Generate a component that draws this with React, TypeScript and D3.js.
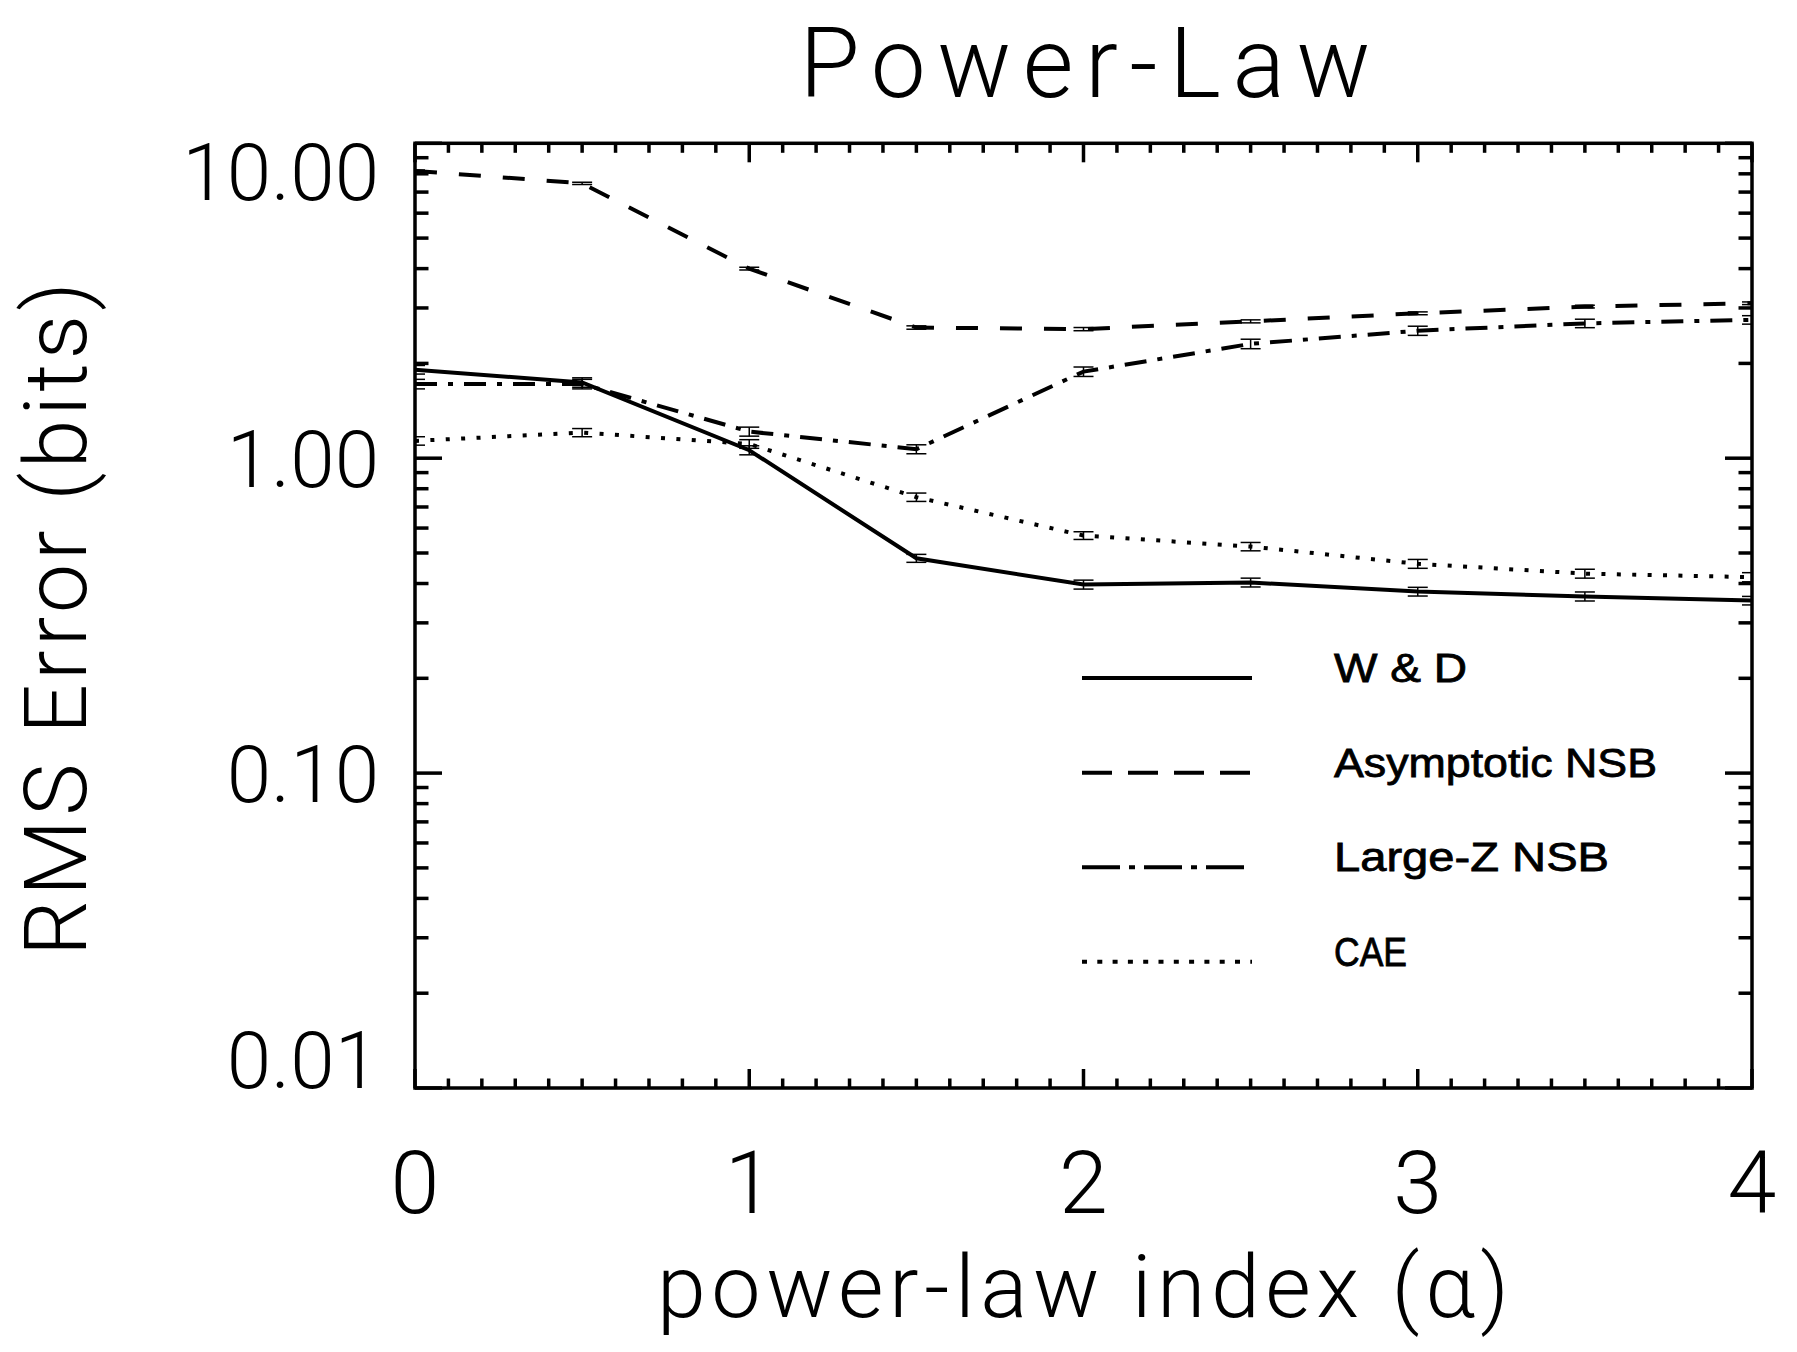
import { useEffect, useRef } from "react";
import * as d3 from "d3";

// power-law index values
const alphas = [0, 0.5, 1, 1.5, 2, 2.5, 3, 3.5, 4];

// RMS error (bits) for each estimator
const wdValues = [1.91, 1.74, 1.06, 0.481, 0.397, 0.403, 0.377, 0.364, 0.353];
const asymValues = [8.17, 7.46, 4.0, 2.6, 2.57, 2.72, 2.885, 3.03, 3.105];
const largeZValues = [1.72, 1.72, 1.215, 1.068, 1.883, 2.307, 2.54, 2.68, 2.75];
const caeValues = [1.135, 1.206, 1.11, 0.752, 0.568, 0.524, 0.462, 0.43, 0.419];

// error bars
const wdErrors = [0.06, 0.06, 0.035, 0.014, 0.013, 0.013, 0.012, 0.012, 0.011];
const asymErrors = [0.06, 0.055, 0.04, 0.032, 0.03, 0.03, 0.03, 0.03, 0.03];
const largeZErrors = [0.06, 0.06, 0.04, 0.035, 0.065, 0.08, 0.085, 0.083, 0.085];
const caeErrors = [0.035, 0.036, 0.035, 0.023, 0.016, 0.016, 0.015, 0.014, 0.014];

const seriesNames = ["W & D", "Asymptotic NSB", "Large-Z NSB", "CAE"];
const xTickValues = [0, 1, 2, 3, 4];
const yTickValues = [0.01, 0.1, 1, 10];

const W = 1797;
const H = 1352;
const hershey = "Roboto, 'Open Sans', 'DejaVu Sans', sans-serif";

export default function App() {
  const svgRef = useRef<SVGSVGElement>(null);

  useEffect(() => {
    if (!svgRef.current) return;
    const svg = d3.select(svgRef.current);
    svg.selectAll("*").remove();

    const left = 415;
    const right = 1752;
    const top = 143.3;
    const bottom = 1088;

    const x = d3.scaleLinear().domain([0, 4]).range([left, right]);
    const y = d3.scaleLog().domain([0.01, 10]).range([bottom, top]);

    const series = [
      { name: seriesNames[0], values: wdValues, errors: wdErrors, dash: null, legendDash: null },
      { name: seriesNames[1], values: asymValues, errors: asymErrors, dash: "22 22", legendDash: "30 16" },
      { name: seriesNames[2], values: largeZValues, errors: largeZErrors, dash: "22 11 5 11", legendDash: "38 9 6 9" },
      { name: seriesNames[3], values: caeValues, errors: caeErrors, dash: "4 11.4", legendDash: "5 10.3" },
    ];

    svg
      .append("defs")
      .append("clipPath")
      .attr("id", "plot-clip")
      .append("rect")
      .attr("x", left)
      .attr("y", top)
      .attr("width", right - left)
      .attr("height", bottom - top);

    // data lines + error bars
    const data = svg.append("g").attr("clip-path", "url(#plot-clip)");
    const line = d3
      .line<number>()
      .x((_, i) => x(alphas[i]))
      .y((d) => y(d));

    series.forEach((s) => {
      data
        .append("path")
        .attr("d", line(s.values))
        .attr("fill", "none")
        .attr("stroke", "#000")
        .attr("stroke-width", 4)
        .attr("stroke-dasharray", s.dash);

      s.values.forEach((v, i) => {
        const cx = x(alphas[i]);
        const y1 = y(v + s.errors[i]);
        const y2 = y(v - s.errors[i]);
        const eb = data.append("g").attr("stroke", "#000").attr("stroke-width", 1.5);
        eb.append("line").attr("x1", cx).attr("x2", cx).attr("y1", y1).attr("y2", y2);
        eb.append("line").attr("x1", cx - 10).attr("x2", cx + 10).attr("y1", y1).attr("y2", y1);
        eb.append("line").attr("x1", cx - 10).attr("x2", cx + 10).attr("y1", y2).attr("y2", y2);
      });
    });

    // frame
    svg
      .append("rect")
      .attr("x", left)
      .attr("y", top)
      .attr("width", right - left)
      .attr("height", bottom - top)
      .attr("fill", "none")
      .attr("stroke", "#000")
      .attr("stroke-width", 3.5);

    // x ticks (bottom + top, inward)
    const ticks = svg.append("g").attr("stroke", "#000").attr("stroke-width", 3.5);
    d3.range(0, 41).forEach((k) => {
      const px = x(k / 10);
      const len = k % 10 === 0 ? 19 : 9.5;
      ticks.append("line").attr("x1", px).attr("x2", px).attr("y1", bottom).attr("y2", bottom - len);
      ticks.append("line").attr("x1", px).attr("x2", px).attr("y1", top).attr("y2", top + len);
    });

    // y ticks (left + right, inward)
    y.ticks().forEach((v) => {
      const py = y(v);
      const major = Math.abs(Math.log10(v) - Math.round(Math.log10(v))) < 1e-6;
      const len = major ? 27 : 13.5;
      ticks.append("line").attr("x1", left).attr("x2", left + len).attr("y1", py).attr("y2", py);
      ticks.append("line").attr("x1", right).attr("x2", right - len).attr("y1", py).attr("y2", py);
    });

    // x tick labels
    svg
      .append("g")
      .selectAll("text")
      .data(xTickValues)
      .join("text")
      .attr("x", (d) => x(d))
      .attr("y", 1213)
      .attr("text-anchor", "middle")
      .attr("font-family", hershey)
      .attr("font-weight", 300)
      .attr("font-size", 88)
      .text((d) => String(d));

    // y tick labels (end labels kept inside the axis extent)
    const fmt = d3.format(".2f");
    svg
      .append("g")
      .selectAll("text")
      .data(yTickValues)
      .join("text")
      .attr("x", 379)
      .attr("y", (d) => {
        if (d === 10) return top + 57;
        if (d === 0.01) return bottom;
        return y(d) + 29;
      })
      .attr("text-anchor", "end")
      .attr("font-family", hershey)
      .attr("font-weight", 300)
      .attr("font-size", 80)
      .text((d) => fmt(d));

    // title
    svg
      .append("text")
      .attr("x", 1085)
      .attr("y", 97)
      .attr("text-anchor", "middle")
      .attr("font-family", hershey)
      .attr("font-weight", 300)
      .attr("font-size", 98)
      .attr("textLength", 571)
      .attr("lengthAdjust", "spacing")
      .text("Power-Law");

    // axis titles
    svg
      .append("text")
      .attr("x", 1083)
      .attr("y", 1317)
      .attr("text-anchor", "middle")
      .attr("font-family", hershey)
      .attr("font-weight", 300)
      .attr("font-size", 88)
      .attr("textLength", 852)
      .attr("lengthAdjust", "spacing")
      .text("power-law index (α)");

    svg
      .append("text")
      .attr("transform", "translate(86,619) rotate(-90)")
      .attr("text-anchor", "middle")
      .attr("font-family", hershey)
      .attr("font-weight", 300)
      .attr("font-size", 88)
      .attr("textLength", 674)
      .attr("lengthAdjust", "spacing")
      .text("RMS Error (bits)");

    // legend
    const legendY = [678, 772.7, 867.3, 961.7];
    const legendWidths = [133, 323, 275, 73];
    const legend = svg.append("g");
    series.forEach((s, i) => {
      legend
        .append("line")
        .attr("x1", 1082)
        .attr("x2", 1252)
        .attr("y1", legendY[i])
        .attr("y2", legendY[i])
        .attr("stroke", "#000")
        .attr("stroke-width", 4)
        .attr("stroke-dasharray", s.legendDash);
      legend
        .append("text")
        .attr("x", 1334)
        .attr("y", legendY[i] + 4)
        .attr("font-family", "'Liberation Sans', Arial, sans-serif")
        .attr("font-size", 40)
        .attr("stroke", "#000")
        .attr("stroke-width", 0.8)
        .attr("textLength", legendWidths[i])
        .attr("lengthAdjust", "spacingAndGlyphs")
        .text(s.name);
    });
  }, []);

  return (
    <>
      <style>{`body{margin:0;background:#fff}`}</style>
      <svg ref={svgRef} width={W} height={H} style={{ display: "block", background: "#fff" }} />
    </>
  );
}
